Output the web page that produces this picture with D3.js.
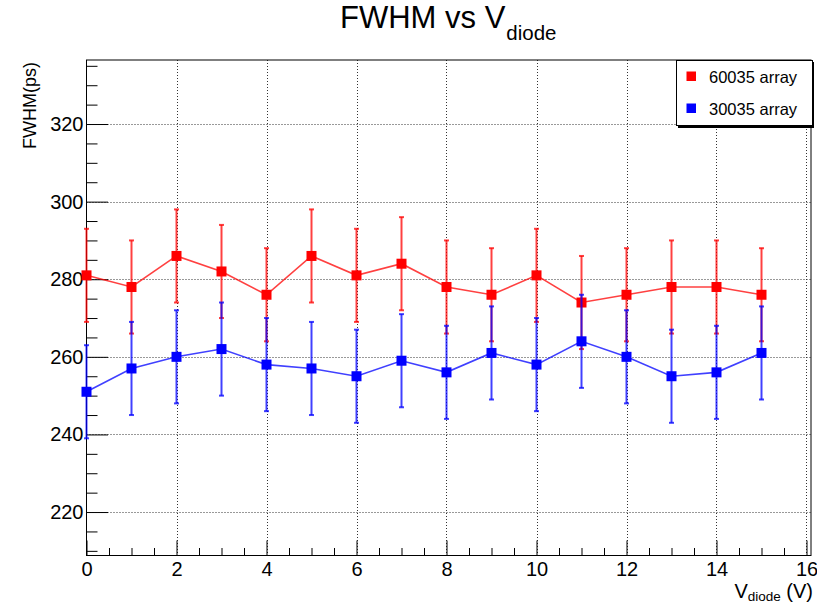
<!DOCTYPE html>
<html lang="en">
<head>
    <meta charset="UTF-8">
    <title>FWHM vs Vdiode</title>
    <script src="https://d3js.org/d3.v7.min.js"></script>
    <style>
        body { margin: 0; background: #fff; }
        text { font-family: "Liberation Sans", Arial, Helvetica, sans-serif; }
    </style>
</head>
<body>
    <div id="chart"></div>

    <script>
        // data
        const vdiode = [0, 1, 2, 3, 4, 5, 6, 7, 8, 9, 10, 11, 12, 13, 14, 15];
        const fwhm60035 = [281, 278, 286, 282, 276, 286, 281, 284, 278, 276, 281, 274, 276, 278, 278, 276];
        const err60035 = [12, 12, 12, 12, 12, 12, 12, 12, 12, 12, 12, 12, 12, 12, 12, 12];
        const fwhm30035 = [251, 257, 260, 262, 258, 257, 255, 259, 256, 261, 258, 264, 260, 255, 256, 261];
        const err30035 = [12, 12, 12, 12, 12, 12, 12, 12, 12, 12, 12, 12, 12, 12, 12, 12];
        const xTicks = [0, 2, 4, 6, 8, 10, 12, 14, 16];
        const yTicks = [220, 240, 260, 280, 300, 320];
        const seriesNames = ['60035 array', '30035 array'];

        const width = 817, height = 608;
        const frame = {left: 86.5, right: 811, top: 60, bottom: 555.5};

        const svg = d3.select('#chart')
            .append('svg')
                .attr('width', width)
                .attr('height', height);

        const x = d3.scaleLinear()
            .domain([0, 16.1])
            .range([frame.left, frame.right]);
        const y = d3.scaleLinear()
            .domain([208.8, 336.5])
            .range([frame.bottom, frame.top]);

        // dotted grid
        const grid = svg.append('g')
            .attr('stroke', '#333')
            .attr('stroke-width', 1)
            .attr('stroke-dasharray', '1 2');
        grid.selectAll('.gx')
            .data(xTicks.filter(d => d > 0))
            .join('line')
                .attr('x1', d => Math.round(x(d)) + 0.5)
                .attr('x2', d => Math.round(x(d)) + 0.5)
                .attr('y1', frame.top)
                .attr('y2', frame.bottom);
        grid.selectAll('.gy')
            .data(yTicks)
            .join('line')
                .attr('x1', frame.left)
                .attr('x2', frame.right)
                .attr('y1', d => Math.round(y(d)) + 0.5)
                .attr('y2', d => Math.round(y(d)) + 0.5);

        // frame
        svg.append('rect')
            .attr('x', frame.left)
            .attr('y', frame.top)
            .attr('width', frame.right - frame.left)
            .attr('height', frame.bottom - frame.top)
            .attr('fill', 'none')
            .attr('stroke', '#000')
            .attr('stroke-width', 1);

        // axes, ticks point inward like ROOT
        const styleAxis = g => {
            g.select('.domain').remove();
            g.selectAll('.tick line').attr('stroke', '#000');
            g.selectAll('text')
                .attr('fill', '#000')
                .style('font-size', '20px')
                .style('font-family', '"Liberation Sans", Arial, sans-serif');
        };

        const xMinor = d3.range(0, 16.01, 0.5).filter(d => d % 2 !== 0);
        svg.append('g')
            .attr('transform', `translate(0, ${frame.bottom})`)
            .call(d3.axisBottom(x).tickValues(xMinor).tickSize(-7.5).tickFormat(''))
            .call(styleAxis);
        svg.append('g')
            .attr('transform', `translate(0, ${frame.bottom})`)
            .call(d3.axisBottom(x).tickValues(xTicks).tickSize(-15).tickPadding(6).tickFormat(d3.format('d')))
            .call(styleAxis);

        const yMinor = d3.range(210, 336, 5).filter(d => d % 20 !== 0);
        svg.append('g')
            .attr('transform', `translate(${frame.left}, 0)`)
            .call(d3.axisLeft(y).tickValues(yMinor).tickSize(-11).tickFormat(''))
            .call(styleAxis);
        svg.append('g')
            .attr('transform', `translate(${frame.left}, 0)`)
            .call(d3.axisLeft(y).tickValues(yTicks).tickSize(-21.5).tickPadding(3).tickFormat(d3.format('d')))
            .call(styleAxis);

        // series
        const series = [
            {name: seriesNames[0], color: '#ff0000', values: fwhm60035, errs: err60035},
            {name: seriesNames[1], color: '#0000ff', values: fwhm30035, errs: err30035}
        ];

        const line = d3.line()
            .x(d => x(d.v))
            .y(d => y(d.f));

        series.forEach(s => {
            const pts = vdiode.map((v, i) => ({v: v, f: s.values[i], e: s.errs[i]}));
            const g = svg.append('g');

            g.append('path')
                .datum(pts)
                .attr('fill', 'none')
                .attr('stroke', s.color)
                .attr('stroke-opacity', 0.75)
                .attr('stroke-width', 1.6)
                .attr('d', line);

            // error bars
            const eb = g.append('g')
                .attr('stroke', s.color)
                .attr('stroke-opacity', 0.75)
                .attr('stroke-width', 2);
            eb.selectAll('.bar')
                .data(pts)
                .join('line')
                    .attr('x1', d => x(d.v))
                    .attr('x2', d => x(d.v))
                    .attr('y1', d => y(d.f - d.e))
                    .attr('y2', d => y(d.f + d.e));
            eb.selectAll('.capTop')
                .data(pts)
                .join('line')
                    .attr('x1', d => x(d.v) - 2.5)
                    .attr('x2', d => x(d.v) + 2.5)
                    .attr('y1', d => y(d.f + d.e))
                    .attr('y2', d => y(d.f + d.e));
            eb.selectAll('.capBot')
                .data(pts)
                .join('line')
                    .attr('x1', d => x(d.v) - 2.5)
                    .attr('x2', d => x(d.v) + 2.5)
                    .attr('y1', d => y(d.f - d.e))
                    .attr('y2', d => y(d.f - d.e));

            // square markers
            g.selectAll('rect')
                .data(pts)
                .join('rect')
                    .attr('x', d => x(d.v) - 5)
                    .attr('y', d => y(d.f) - 5)
                    .attr('width', 10)
                    .attr('height', 10)
                    .attr('fill', s.color);
        });

        // legend box with shadow
        const leg = svg.append('g').attr('transform', 'translate(676, 60)');
        leg.append('rect')
            .attr('x', 2).attr('y', 2)
            .attr('width', 136).attr('height', 66)
            .attr('fill', '#000');
        leg.append('rect')
            .attr('x', 0.5).attr('y', 0.5)
            .attr('width', 136).attr('height', 65)
            .attr('fill', '#fff')
            .attr('stroke', '#000');
        series.forEach((s, i) => {
            leg.append('rect')
                .attr('x', 10.5).attr('y', 11.5 + i * 32)
                .attr('width', 9.5).attr('height', 9.5)
                .attr('fill', s.color);
            leg.append('text')
                .attr('x', 33).attr('y', 23 + i * 32)
                .style('font-size', '16.5px')
                .text(s.name);
        });

        // title
        const title = svg.append('text')
            .attr('x', 340)
            .attr('y', 28)
            .style('font-size', '31px');
        title.append('tspan').text('FWHM vs V');
        title.append('tspan')
            .attr('dy', 12).attr('dx', 1)
            .style('font-size', '20.5px')
            .text('diode');

        // axis titles
        const xTitle = svg.append('text')
            .attr('x', 813)
            .attr('y', 598)
            .attr('text-anchor', 'end')
            .style('font-size', '20px');
        xTitle.append('tspan').text('V');
        xTitle.append('tspan')
            .attr('dy', 3)
            .style('font-size', '13.5px')
            .text('diode');
        xTitle.append('tspan')
            .attr('dy', -3)
            .text(' (V)');

        svg.append('text')
            .attr('transform', 'translate(36, 62) rotate(-90)')
            .attr('text-anchor', 'end')
            .style('font-size', '18px')
            .text('FWHM(ps)');
    </script>
</body>
</html>
